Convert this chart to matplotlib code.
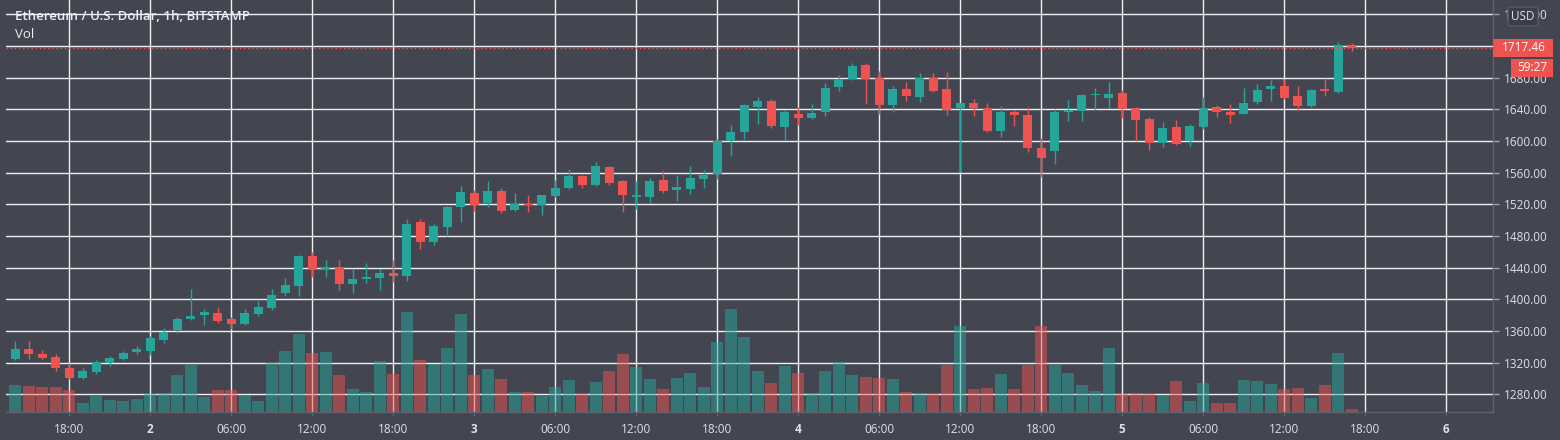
import numpy as np
import pandas as pd
import matplotlib
matplotlib.use("Agg")
import matplotlib.pyplot as plt
import matplotlib.transforms as mtransforms
from matplotlib.patches import Rectangle, FancyBboxPatch

# ---------------- data ----------------
start_time = "2021-02-01 14:00"
opens = [1325, 1337.2, 1330.9, 1327.1, 1313.2, 1301, 1308.2, 1319.5, 1325, 1333.8,
         1334.7, 1348.6, 1361.6, 1375.5, 1380.2, 1382.7, 1375.1, 1368.8, 1381.4, 1389,
         1407.9, 1416.8, 1454.7, 1437, 1440.8, 1419.3, 1425.6, 1427, 1433.3, 1429.4,
         1497.6, 1472.4, 1491.3, 1516.6, 1534.3, 1521.6, 1536.8, 1512.8, 1520.4, 1519.1,
         1530.5, 1540.6, 1555.8, 1544.4, 1567.1, 1549.4, 1529.3, 1529.3, 1550.7, 1538,
         1539.3, 1552, 1558.3, 1599.4, 1610.8, 1642.9, 1650.5, 1617.7, 1634.1, 1629.1,
         1636.6, 1668.2, 1678.3, 1696, 1679.6, 1645.5, 1665.7, 1655.5, 1679.6, 1665.7,
         1641.6, 1647.9, 1641.6, 1612.6, 1636.6, 1632.9, 1591.2, 1587.6, 1636.6, 1637.9,
         1658.1, 1654.3, 1660.6, 1641.6, 1627.8, 1597.5, 1617.7, 1600, 1617.7, 1642.9,
         1636.6, 1634.1, 1649.2, 1665.7, 1669.4, 1656.8, 1644.1, 1665.7, 1662, 1721]
highs = [1347, 1347.3, 1336, 1331, 1319, 1313.2, 1323.3, 1328.4, 1334.7, 1341,
         1353.7, 1363.7, 1377.6, 1412.8, 1387.7, 1390.2, 1377.6, 1387.7, 1397.8, 1413,
         1426.9, 1456, 1459.8, 1449.6, 1449.6, 1438.3, 1446, 1438.3, 1449.6, 1501.4,
         1501.4, 1495.1, 1517.8, 1543.1, 1538, 1549.4, 1540.6, 1534.3, 1531.8, 1531.8,
         1550.7, 1564.6, 1557, 1573.5, 1568.4, 1550.7, 1549.4, 1553.2, 1562, 1557,
         1568.4, 1563.3, 1602.5, 1619.6, 1646.2, 1655.5, 1653, 1639.2, 1642.9, 1646.2,
         1673.2, 1683.3, 1698.5, 1698.5, 1688.4, 1669.4, 1674.4, 1685.8, 1685.8, 1687.1,
         1648, 1653, 1648, 1644.1, 1639.2, 1643, 1603.8, 1640.5, 1652, 1659.3,
         1667, 1674.4, 1664.4, 1643, 1630.3, 1624, 1626.5, 1621.4, 1655.5, 1645.4,
         1646.7, 1667, 1672, 1677, 1678.3, 1669.4, 1665.7, 1679.6, 1725.1, 1723.8]
lows = [1323, 1324.6, 1324.6, 1309.8, 1299.7, 1299.3, 1305.6, 1315.7, 1323.3, 1331,
        1329.6, 1344.8, 1357.8, 1374, 1367.6, 1370.1, 1362.5, 1367.6, 1379, 1386.5,
        1404.2, 1404.2, 1428.2, 1428.2, 1411.7, 1408, 1420.6, 1411.7, 1422, 1423.1,
        1463.5, 1468.6, 1480, 1497.6, 1511.5, 1516.6, 1509, 1511.5, 1510.3, 1506.5,
        1529, 1539.3, 1540.6, 1543, 1544.4, 1510.3, 1514, 1521.6, 1534.3, 1524.2,
        1533, 1540.6, 1552, 1581, 1602.5, 1621.4, 1616.4, 1601.2, 1620.2, 1627.8,
        1631.6, 1663.1, 1677, 1646.6, 1634.1, 1636.6, 1650.5, 1649.2, 1662, 1633,
        1561, 1631.6, 1611, 1605, 1619, 1586, 1555, 1571.1, 1625, 1625,
        1639, 1641.6, 1629, 1600, 1588.7, 1592.5, 1595, 1593.7, 1615.1, 1630.3,
        1622.7, 1634, 1646.7, 1650.5, 1653, 1639.2, 1642.9, 1656.8, 1661, 1714]
closes = [1336.8, 1331.3, 1326.2, 1313.6, 1301, 1309.4, 1320.8, 1325.8, 1332.2, 1337.2,
          1351.1, 1358.7, 1375.1, 1379, 1384, 1372.6, 1368.8, 1382.7, 1390.2, 1405.4,
          1418, 1454.7, 1437, 1440.8, 1419.3, 1425.6, 1428.2, 1433.3, 1429.5, 1495.1,
          1472.4, 1492.6, 1516.6, 1535.5, 1519.1, 1536.8, 1511.5, 1520.4, 1519.1, 1531.8,
          1540.6, 1555.8, 1544.4, 1568.4, 1546.9, 1531.8, 1531.8, 1549.4, 1536.8, 1541.8,
          1553.2, 1557, 1600, 1610.8, 1644.9, 1650.5, 1618.9, 1636.6, 1629.1, 1635.4,
          1666.9, 1678.3, 1694.7, 1678.3, 1645.5, 1665.7, 1656.8, 1679.6, 1663.1, 1638.9,
          1647.9, 1641.6, 1612.6, 1636.6, 1632.9, 1591.2, 1578.6, 1636.9, 1639.2, 1658.1,
          1659.3, 1659.3, 1640.3, 1626.5, 1597.5, 1616.4, 1596.2, 1619, 1641.6, 1636.6,
          1632.9, 1648, 1664.4, 1669.4, 1654.3, 1644.1, 1664.4, 1663.1, 1721.4, 1717.46]
volumes = [27, 26, 25, 25, 22, 9, 16, 12, 11, 13,
           18, 19, 37, 47, 15, 22, 22, 17, 11, 49,
           61, 78, 59, 60, 37, 23, 20, 51, 38, 100,
           52, 48, 64, 98, 37, 43, 33, 20, 20, 16,
           25, 32, 18, 30, 41, 58, 45, 33, 23, 34,
           39, 25, 70, 103, 75, 41, 29, 46, 39, 19,
           41, 50, 37, 35, 34, 33, 20, 19, 18, 47,
           86, 23, 24, 38, 23, 47, 86, 47, 39, 27,
           21, 64, 18, 19, 18, 17, 31, 11, 29, 9,
           9, 32, 31, 28, 23, 24, 14, 27, 59, 3]
price_ticks = list(range(1280, 1761, 40))
countdown = "59:27"
title = "Ethereum / U.S. Dollar, 1h, BITSTAMP"

# ---------------- style ----------------
BG = "#434651"
GRID = "#eef0f4"
UP = "#26a69a"
DOWN = "#ef5350"
TXT = "#dfe1e7"
BORDER = "#5f626c"
plt.rcParams['font.family'] = ['Open Sans', 'DejaVu Sans']

W, H = 1560, 440
fig = plt.figure(figsize=(W / 100, H / 100), dpi=100)
fig.patch.set_facecolor(BG)
ax = fig.add_axes([6 / W, 28 / H, 1487 / W, 412 / H])
ax.set_facecolor(BG)

o = np.array(opens); h = np.array(highs); l = np.array(lows); c = np.array(closes)
v = np.array(volumes)
n = len(o)
x = np.arange(n)
times = pd.date_range(start_time, periods=n, freq="h")
up = c >= o
col = np.where(up, UP, DOWN)

# volume (its own scale: pane height = 412 units)
vol_pane = 412.0
vol_trans = mtransforms.Affine2D().scale(1, 1 / vol_pane) + \
    mtransforms.blended_transform_factory(ax.transData, ax.transAxes)
for xi, vi, ci in zip(x, v, col):
    ax.add_patch(Rectangle((xi - 0.44, 0), 0.88, vi, transform=vol_trans,
                           facecolor=ci, alpha=0.5, edgecolor='none', zorder=1))

# candles
ax.vlines(x, l, h, colors=col, linewidth=1.0, zorder=2)
body_bottom = np.minimum(o, c)
body_h = np.maximum(np.abs(c - o), 1.2)
ax.bar(x, body_h, bottom=body_bottom, width=0.67, color=col, edgecolor='none', zorder=3)

# limits
ax.set_xlim(-0.69, 109.46)
ax.set_ylim(1257.6, 1778.0)

# last price dotted line
ax.axhline(c[-1], color=DOWN, linestyle=(0, (1, 2)), linewidth=1.0, zorder=4)

# ticks
tick_times = pd.date_range("2021-02-01 18:00", "2021-02-06 00:00", freq="6h")
tick_pos = (tick_times - times[0]) / pd.Timedelta("1h")
tick_lab = [str(t.day) if t.hour == 0 else t.strftime("%H:%M") for t in tick_times]
ax.set_xticks(tick_pos)
ax.set_xticklabels(tick_lab)
for t, lab in zip(tick_times, ax.get_xticklabels()):
    if t.hour == 0:
        lab.set_fontweight('bold')
ax.set_yticks(price_ticks)
ax.set_yticklabels([f"{p:.2f}" for p in price_ticks])
ax.yaxis.tick_right()
ax.tick_params(axis='x', length=3, width=1, color=BORDER, labelcolor=TXT,
               labelsize=8.5, pad=5)
ax.tick_params(axis='y', length=4, width=1, color="#a0a3ac", labelcolor=TXT,
               labelsize=8.5, pad=4)
ax.set_axisbelow(True)
ax.grid(True, color=GRID, linewidth=1.0)
for s in ['left', 'top']:
    ax.spines[s].set_visible(False)
for s in ['right', 'bottom']:
    ax.spines[s].set_color(BORDER)
    ax.spines[s].set_linewidth(1.0)

# title
fig.text(15 / W, 1 - 17 / H, title, color="#eceef2", fontsize=9.5, fontweight='semibold',
         va='center', ha='left')
fig.text(15 / W, 1 - 35 / H, "Vol", color="#eceef2", fontsize=9.5, va='center', ha='left')

# last price label boxes (position through the price axis transform)
yp = ax.transData.transform((0, c[-1]))[1]  # display px from bottom
fig.patches.append(Rectangle((1493 / W, (yp - 9) / H), 60 / W, 18 / H,
                             transform=fig.transFigure, facecolor=DOWN,
                             edgecolor='none', zorder=5))
fig.text(1524 / W, yp / H, f"{c[-1]:.2f}", color="white", fontsize=8.5,
         ha='center', va='center', zorder=6)
fig.patches.append(Rectangle((1511 / W, (yp - 29) / H), 42 / W, 18 / H,
                             transform=fig.transFigure, facecolor=DOWN,
                             edgecolor='none', zorder=5))
fig.text(1532 / W, (yp - 20) / H, countdown, color="white", fontsize=8.5,
         ha='center', va='center', zorder=6)

# currency box at top of price scale
fig.patches.append(FancyBboxPatch((1508 / W, 1 - 26 / H), 30 / W, 19 / H,
                                  boxstyle="round,pad=0,rounding_size=0.004",
                                  transform=fig.transFigure, facecolor="#3c3f49",
                                  edgecolor="#565963", linewidth=1, zorder=5))
fig.text(1523 / W, 1 - 16.5 / H, "USD", color=TXT, fontsize=8.5, ha='center',
         va='center', zorder=6)

fig.savefig("out.png", dpi=100, facecolor=BG)
